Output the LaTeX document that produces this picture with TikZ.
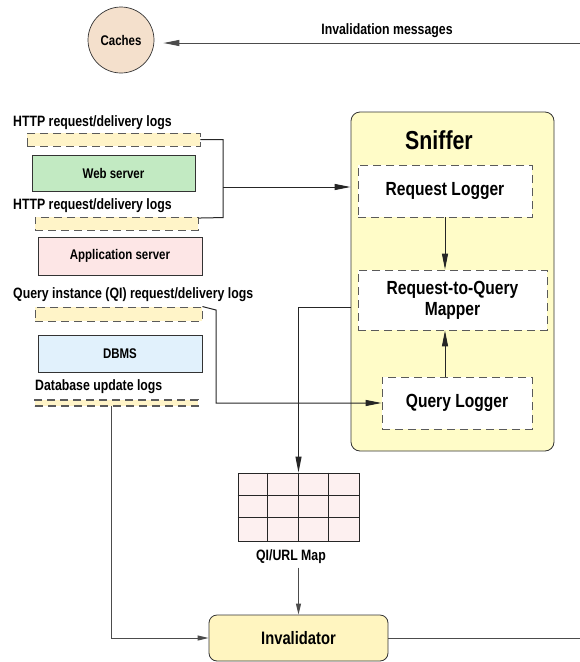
\documentclass[tikz,border=0pt]{standalone}
\usepackage{fontspec}
\setmainfont{Liberation Sans}[FakeStretch=0.82]
\usepackage{tikz}
\usetikzlibrary{arrows.meta, calc}
\definecolor{cacheTan}{HTML}{F4E0CC}
\definecolor{logYellow}{HTML}{FFF4C8}
\definecolor{webGreen}{HTML}{C2EAC2}
\definecolor{appPink}{HTML}{FDE6E6}
\definecolor{dbmsBlue}{HTML}{E1F1FC}
\definecolor{snifYellow}{HTML}{FFFCC8}
\definecolor{invYellow}{HTML}{FFF5C0}
\definecolor{mapPink}{HTML}{FDF0F0}
\definecolor{dashGray}{HTML}{5A5A5A}

\begin{document}
\begin{tikzpicture}[x=1pt, y=-1pt,
	small/.style={font=\fontsize{14}{16}\selectfont\bfseries},
	medium/.style={font=\fontsize{15}{17}\selectfont\bfseries},
	big/.style={font=\fontsize{19}{21}\selectfont\bfseries},
	logbox/.style={draw=dashGray, fill=logYellow, dash pattern=on 8pt off 5pt, line width=0.9pt, inner sep=0pt},
	srvbox/.style={draw=black!80, line width=0.7pt, inner sep=0pt, small},
	subbox/.style={draw=dashGray, fill=white, dash pattern=on 8pt off 5pt, line width=0.9pt, inner sep=0pt, big},
	loglabel/.style={medium, anchor=west, inner sep=0pt},
	conn/.style={line width=1pt, black!85},
	tip/.style={-{Triangle[length=16pt, width=6pt]}},
	smalltip/.style={-{Triangle[length=11pt, width=5pt]}}
	]

	\useasboundingbox (0,0) rectangle (580,662);

	% caches and invalidation messages
	\node[circle, draw=black!80, fill=cacheTan, minimum size=66pt, inner sep=0pt, line width=0.7pt, small] (caches) at (121,40) {Caches};
	\node[medium] (msglbl) at (387,31) {Invalidation messages};

	% servers and their logs
	\node[loglabel] (httplbla) at (13,123) {HTTP request/delivery logs};
	\node[logbox, minimum width=173pt, minimum height=13pt] (log1) at (113.5,139.5) {};
	\node[srvbox, fill=webGreen, minimum width=163pt, minimum height=36pt] (web) at (113.5,173) {Web server};
	\node[loglabel] (httplblb) at (13,206) {HTTP request/delivery logs};
	\node[logbox, minimum width=163pt, minimum height=13pt] (log2) at (116.5,223.5) {};
	\node[srvbox, fill=appPink, minimum width=164pt, minimum height=38pt] (app) at (120,256) {Application server};

	\node[loglabel] (qilbl) at (13,295) {Query instance (QI) request/delivery logs};
	\node[logbox, minimum width=167pt, minimum height=14pt] (log3) at (118.5,314) {};
	\node[srvbox, fill=dbmsBlue, minimum width=164pt, minimum height=37pt] (dbms) at (120,353.5) {DBMS};
	\node[loglabel] (dblbl) at (35,387) {Database update logs};
	\node[logbox, line width=2pt, minimum width=163pt, minimum height=6pt] (log4) at (116.5,403) {};

	% sniffer
	\node[draw=black!80, fill=snifYellow, rounded corners=9pt, line width=0.8pt, minimum width=203pt, minimum height=339pt] (sniffer) at (452.5,281.5) {};
	\node[font=\fontsize{26}{30}\selectfont\bfseries] (sniftitle) at (439,140) {Sniffer};
	\node[subbox, minimum width=174pt, minimum height=52pt] (reqlog) at (445,191) {Request Logger};
	\node[subbox, minimum width=189pt, minimum height=60pt, align=center] (mapper) at (452.5,300) {Request-to-Query\\Mapper};
	\node[subbox, minimum width=150pt, minimum height=52pt] (qlog) at (457,403) {Query Logger};

	\draw[conn, tip] (reqlog.south) -- (reqlog.south |- mapper.north);
	\draw[conn, tip] (qlog.north -| reqlog.south) -- (mapper.south -| reqlog.south);

	% QI/URL map
	\node[draw=black!85, fill=mapPink, line width=1pt, minimum width=121pt, minimum height=68pt, inner sep=0pt] (qimap) at (298.5,507) {};
	\foreach \i in {1,2,3}
		\draw[line width=1pt, black!85] ($(qimap.north west)+(\i*30.25,0)$) -- ($(qimap.south west)+(\i*30.25,0)$);
	\foreach \j in {1,2}
		\draw[line width=1pt, black!85] ($(qimap.north west)+(0,\j*22.67)$) -- ($(qimap.north east)+(0,\j*22.67)$);
	\node[medium] (maplbl) at (291,557) {QI/URL Map};

	% invalidator
	\node[draw=black!80, fill=invYellow, rounded corners=8pt, line width=0.8pt, minimum width=179pt, minimum height=46pt, font=\fontsize{18}{20}\selectfont\bfseries] (inv) at (298.5,638) {Invalidator};

	% connectors
	\coordinate (brk) at (223,187);
	\coordinate (qibend) at (216,310);
	\coordinate (dbdrop) at (111,406);
	\coordinate (snout) at ($(sniffer.west)+(0,25.5)$);
	\coordinate (rbot) at (580.6,638);
	\coordinate (rtop) at (580.6,43);

	\draw[conn] (log1.east) -- (log1.east -| brk) -- ($(log2.north east -| brk)+(0,1)$) -- ($(log2.north east)+(0,1.5)$);
	\draw[conn, tip] (brk) -- (brk -| sniffer.west);
	\draw[conn, tip] (log3.north east) -- (qibend) |- (qlog.west);
	\draw[conn, tip] (snout) -| (qimap.north);
	\draw[conn, black!70, smalltip] (dbdrop) |- (inv.west);
	\draw[conn, black!70, smalltip] (maplbl.south -| qimap.south) -- (inv.north);
	\draw[conn, black!70, tip, shorten >=9pt] (inv.east) -- (rbot) -- (rtop) -- (caches.east |- rtop);

\end{tikzpicture}
\end{document}
